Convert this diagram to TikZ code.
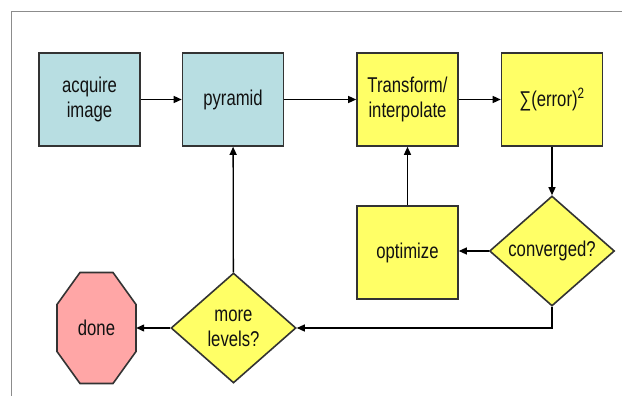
\documentclass[tikz,border=0pt]{standalone}
\usepackage{fontspec}
\setmainfont{Liberation Sans}[FakeStretch=0.78]
\usetikzlibrary{arrows.meta,shapes.geometric}
\definecolor{boxblue}{RGB}{184,222,226}
\definecolor{boxyellow}{RGB}{255,255,102}
\definecolor{boxpink}{RGB}{255,166,166}
\definecolor{edgegray}{RGB}{51,51,51}
\definecolor{framegray}{RGB}{140,140,140}
\definecolor{txt}{RGB}{17,17,17}
\tikzset{
  base/.style={draw=edgegray, line width=1.6pt, text=txt, align=center,
    font=\fontsize{21.4}{25}\selectfont},
  bluebox/.style={base, fill=boxblue, minimum width=101pt, minimum height=93pt, inner sep=0pt},
  yellowbox/.style={base, fill=boxyellow, minimum width=101pt, minimum height=93pt, inner sep=0pt},
  decide/.style={base, diamond, fill=boxyellow, minimum width=125pt, minimum height=110pt, inner sep=0pt},
  stopnode/.style={text=txt, align=center, font=\fontsize{21.4}{25}\selectfont,
    minimum width=79pt, minimum height=111pt, inner sep=0pt},
  arr/.style={draw=black, line width=1.3pt, -{Triangle[length=8pt,width=7pt]}}
}
\begin{document}
\begin{tikzpicture}[x=1pt,y=-1pt]
\useasboundingbox (0,0) rectangle (622,396);
\fill[white] (0,0) rectangle (622,396);
\draw[framegray, line width=1pt] (622,11.5) -- (11.5,11.5) -- (11.5,396);

\node[bluebox] (acq) at (89.5,99.5) {acquire\\image};
\node[bluebox] (pyr) at (233,99.5) {pyramid};
\node[yellowbox] (tra) at (407.5,99.5) {Transform/\\interpolate};
\node[yellowbox] (sum) at (552,99.5) {∑(error)\textsuperscript{2}};
\node[yellowbox] (opt) at (407.5,252.5) {optimize};
\node[decide] (conv) at (552,251) {converged?};
\node[decide] (more) at (233.5,328) {more\\levels?};

\begin{scope}[shift={(96.5,328)}]
\draw[draw=edgegray, line width=1.6pt, fill=boxpink]
  (-16.5,-55.5) -- (16.5,-55.5) -- (39.5,-23.5) -- (39.5,23.5)
  -- (16.5,55.5) -- (-16.5,55.5) -- (-39.5,23.5) -- (-39.5,-23.5) -- cycle;
\end{scope}
\node[stopnode] (done) at (96.5,328) {done};

\draw[arr] (acq) -- (pyr);
\draw[arr] (pyr) -- (tra);
\draw[arr] (tra) -- (sum);
\draw[arr] (sum) -- (conv);
\draw[arr] (conv.west) -- (conv.west -| opt.east);
\draw[arr] (opt) -- (tra);
\draw[arr] (conv.south) |- (more.east);
\draw[arr] (more) -- (pyr);
\draw[arr] (more) -- (done);
\end{tikzpicture}
\end{document}
